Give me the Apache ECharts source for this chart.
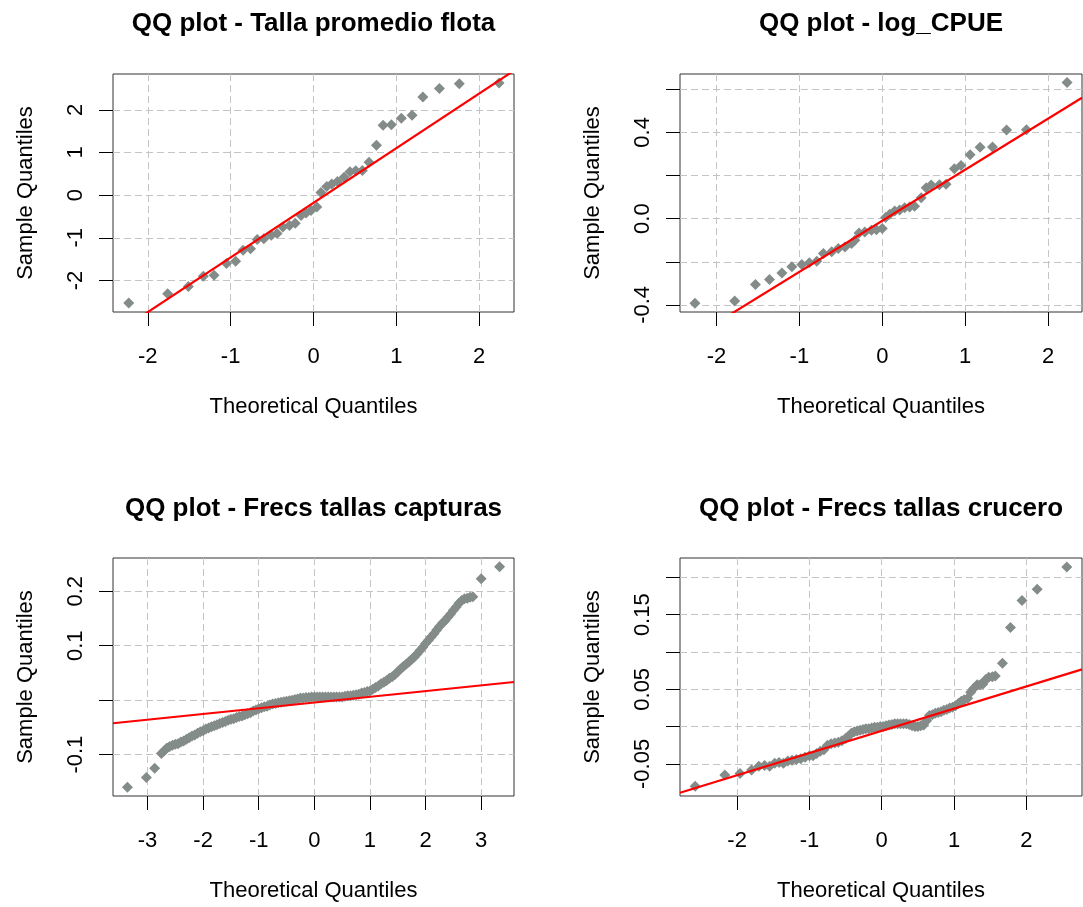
<!DOCTYPE html>
<html>
<head>
<meta charset="utf-8">
<script src="https://cdn.jsdelivr.net/npm/echarts@6/dist/echarts.min.js"></script>
<style>
html,body{margin:0;padding:0;background:#fff;}
#chart{width:1083px;height:907px;}
</style>
</head>
<body>
<div id="chart"></div>
<script>
// ---------- Panel 1: Talla promedio flota ----------
const p1x = [-2.23,-1.76,-1.51,-1.33,-1.20,-1.05,-0.94,-0.85,-0.76,-0.68,-0.60,-0.51,-0.44,-0.37,-0.29,-0.22,-0.15,-0.09,-0.03,0.04,0.09,0.16,0.22,0.29,0.37,0.44,0.51,0.59,0.67,0.76,0.84,0.94,1.06,1.19,1.32,1.52,1.76,2.24];
const p1y = [-2.53,-2.31,-2.14,-1.90,-1.88,-1.60,-1.55,-1.29,-1.26,-1.04,-1.02,-0.94,-0.90,-0.75,-0.71,-0.66,-0.48,-0.42,-0.36,-0.28,0.06,0.20,0.26,0.32,0.42,0.55,0.57,0.58,0.77,1.17,1.64,1.65,1.80,1.87,2.30,2.50,2.61,2.63];
const p1LineX = [-2.42, 2.42];
const p1LineY = [-3.28, 2.92];

// ---------- Panel 2: log_CPUE ----------
const p2x = [-2.26,-1.78,-1.53,-1.36,-1.21,-1.09,-0.97,-0.88,-0.79,-0.71,-0.61,-0.53,-0.45,-0.37,-0.33,-0.28,-0.21,-0.13,-0.07,0.00,0.04,0.09,0.15,0.21,0.27,0.33,0.39,0.47,0.53,0.59,0.69,0.77,0.87,0.95,1.06,1.18,1.33,1.50,1.74,2.23];
const p2y = [-0.392,-0.382,-0.305,-0.282,-0.252,-0.223,-0.213,-0.205,-0.198,-0.162,-0.154,-0.139,-0.131,-0.115,-0.100,-0.066,-0.062,-0.054,-0.051,-0.046,0.005,0.020,0.035,0.040,0.051,0.054,0.058,0.097,0.143,0.156,0.157,0.160,0.232,0.247,0.297,0.331,0.332,0.411,0.412,0.632];
const p2LineX = [-2.44, 2.41];
const p2LineY = [-0.588, 0.561];

// ---------- Panel 3: Frecs tallas capturas ----------
const p3x = [-3.36,-3.02,-2.87,
-2.75,-2.70,-2.65,-2.60,-2.55,-2.50,-2.45,-2.40,-2.35,-2.30,-2.25,-2.20,-2.15,-2.10,-2.05,-2.00,
-1.95,-1.90,-1.85,-1.80,-1.75,-1.70,-1.65,-1.60,-1.55,-1.50,-1.45,-1.40,-1.35,-1.30,-1.25,-1.20,
-1.15,-1.10,-1.05,-1.00,-0.95,-0.90,-0.85,-0.80,-0.75,-0.70,-0.65,-0.60,-0.55,-0.50,-0.45,-0.40,
-0.35,-0.30,-0.25,-0.20,-0.15,-0.10,-0.05,0.00,0.05,0.10,0.15,0.20,0.25,0.30,0.35,0.40,0.45,0.50,
0.55,0.60,0.65,0.70,0.75,0.80,0.85,0.90,0.95,1.00,1.05,1.10,1.15,1.20,1.25,1.30,1.35,1.40,1.45,
1.50,1.55,1.60,1.65,1.70,1.75,1.80,1.85,1.90,1.95,2.00,2.05,2.10,2.15,2.20,2.25,2.30,2.35,2.40,
2.45,2.50,2.55,2.60,2.65,2.70,2.75,2.80,2.85,
3.00,3.33];
const p3y = [-0.160,-0.142,-0.125,
-0.098,-0.093,-0.088,-0.085,-0.083,-0.081,-0.080,-0.077,-0.075,-0.072,-0.069,-0.066,-0.064,-0.061,-0.058,-0.056,
-0.053,-0.051,-0.049,-0.047,-0.045,-0.043,-0.041,-0.039,-0.037,-0.035,-0.034,-0.032,-0.030,-0.029,-0.027,-0.025,
-0.023,-0.020,-0.018,-0.016,-0.014,-0.012,-0.011,-0.009,-0.007,-0.006,-0.005,-0.004,-0.003,-0.002,-0.001,0.000,
0.001,0.002,0.004,0.004,0.005,0.005,0.006,0.006,0.006,0.006,0.006,0.006,0.006,0.006,0.006,0.006,0.006,0.006,
0.007,0.008,0.008,0.009,0.010,0.011,0.013,0.014,0.016,0.017,0.020,0.023,0.026,0.030,0.033,0.036,0.040,0.043,0.047,
0.052,0.057,0.062,0.066,0.070,0.075,0.079,0.085,0.091,0.097,0.104,0.110,0.116,0.122,0.129,0.135,0.141,0.146,0.152,
0.158,0.165,0.171,0.178,0.183,0.186,0.187,0.189,0.190,
0.223,0.245];
const p3LineX = [-3.62, 3.59];
const p3LineY = [-0.0424, 0.0333];

// ---------- Panel 4: Frecs tallas crucero ----------
const p4x = [-2.58,-2.17,-1.96,-1.80,-1.70,-1.62,-1.55,-1.48,-1.42,-1.36,-1.30,-1.24,-1.18,-1.12,-1.06,-1.00,-0.95,-0.90,-0.85,-0.80,-0.75,-0.70,-0.65,-0.60,-0.55,-0.50,-0.46,-0.42,-0.38,-0.34,-0.30,-0.26,-0.22,-0.18,-0.14,-0.10,-0.06,-0.02,0.02,0.06,0.10,0.14,0.18,0.22,0.26,0.30,0.34,0.38,0.42,0.46,0.50,0.54,0.58,0.62,0.66,0.70,0.74,0.78,0.82,0.86,0.90,0.94,0.98,1.02,1.06,1.10,1.14,1.19,1.23,1.27,1.32,1.36,1.40,1.44,1.48,1.53,1.57,1.67,1.78,1.94,2.15,2.56];
const p4y = [-0.080,-0.065,-0.063,-0.058,-0.053,-0.052,-0.053,-0.049,-0.048,-0.049,-0.046,-0.045,-0.044,-0.043,-0.041,-0.039,-0.039,-0.036,-0.033,-0.031,-0.025,-0.023,-0.022,-0.021,-0.019,-0.016,-0.013,-0.009,-0.007,-0.006,-0.005,-0.004,-0.003,-0.003,-0.002,-0.001,-0.001,0.000,0.000,0.001,0.002,0.003,0.004,0.004,0.004,0.004,0.004,0.003,0.001,0.000,0.000,0.001,0.002,0.008,0.015,0.016,0.018,0.019,0.020,0.022,0.023,0.025,0.026,0.028,0.031,0.034,0.036,0.038,0.046,0.051,0.056,0.056,0.057,0.063,0.066,0.067,0.068,0.085,0.133,0.169,0.184,0.214];
const p4LineX = [-2.79, 2.77];
const p4LineY = [-0.0887, 0.0767];

// ---------- Titles and tick labels ----------
const titles = ['QQ plot - Talla promedio flota','QQ plot - log_CPUE','QQ plot - Frecs tallas capturas','QQ plot - Frecs tallas crucero'];
const xTicks = [[-2,-1,0,1,2],[-2,-1,0,1,2],[-3,-2,-1,0,1,2,3],[-2,-1,0,1,2]];
const yTicks = [[-2,-1,0,1,2],[-0.4,-0.2,0,0.2,0.4,0.6],[-0.1,0,0.1,0.2],[-0.05,0,0.05,0.1,0.15,0.2]];
const yLabels = [[-2,-1,0,1,2],[-0.4,0,0.4],[-0.1,0.1,0.2],[-0.05,0.05,0.15]];
const yDecimals = [0,1,1,2];
const xRange = [[-2.42,2.42],[-2.44,2.41],[-3.62,3.59],[-2.79,2.77]];
const yRange = [[-2.74,2.84],[-0.433,0.671],[-0.176,0.261],[-0.093,0.226]];

const xName = 'Theoretical Quantiles';
const yName = 'Sample Quantiles';

const FONT = "'Liberation Sans', Arial, sans-serif";
const PT_COLOR = '#848c89';
const GRID_COLOR = '#c4c4c4';

const grids = [
  {left:113, top:74, width:401, height:238},
  {left:680, top:74, width:402, height:238},
  {left:113, top:558, width:401, height:238},
  {left:680, top:558, width:402, height:238}
];

function zip(a,b){ return a.map((v,i)=>[v,b[i]]); }
const ptsX = [p1x,p2x,p3x,p4x], ptsY = [p1y,p2y,p3y,p4y];
const lnX = [p1LineX,p2LineX,p3LineX,p4LineX], lnY = [p1LineY,p2LineY,p3LineY,p4LineY];

const option = {
  animation:false,
  backgroundColor:'#ffffff',
  textStyle:{fontFamily:FONT},
  title: titles.map((t,i)=>({
    text:t,
    left: grids[i].left + grids[i].width/2,
    top: i<2 ? 11 : 496,
    textAlign:'center',
    padding:0,
    textStyle:{fontFamily:FONT,fontSize:26,fontWeight:'bold',color:'#000'}
  })),
  grid: grids.map(g=>Object.assign({show:true,borderColor:'#333',borderWidth:1,containLabel:false},g)),
  xAxis: grids.map((g,i)=>({
    type:'value', gridIndex:i, position:'bottom',
    min:xRange[i][0], max:xRange[i][1],
    name:xName, nameLocation:'middle', nameGap:84,
    nameTextStyle:{fontFamily:FONT,fontSize:22,color:'#000'},
    axisLine:{show:false,onZero:false},
    axisTick:{show:true,inside:false,length:14,customValues:xTicks[i],lineStyle:{color:'#000',width:1}},
    axisLabel:{show:true,margin:34,fontSize:22,color:'#000',fontFamily:FONT,customValues:xTicks[i],
      formatter:v=>String(Math.round(v))},
    splitLine:{show:true,lineStyle:{color:GRID_COLOR,type:[7,4],width:1}}
  })),
  yAxis: grids.map((g,i)=>({
    type:'value', gridIndex:i, position:'left',
    min:yRange[i][0], max:yRange[i][1],
    name:yName, nameLocation:'middle', nameGap:76,
    nameTextStyle:{fontFamily:FONT,fontSize:22,color:'#000'},
    axisLine:{show:false,onZero:false},
    axisTick:{show:true,inside:false,length:14,customValues:yTicks[i],lineStyle:{color:'#000',width:1}},
    axisLabel:{show:true,margin:26,rotate:90,fontSize:22,color:'#000',fontFamily:FONT,customValues:yLabels[i],
      formatter:v=>Number(v).toFixed(yDecimals[i])},
    splitLine:{show:true,lineStyle:{color:GRID_COLOR,type:[7,4],width:1}}
  })),
  series: [
    ...ptsX.map((xs,i)=>({
      type:'scatter', xAxisIndex:i, yAxisIndex:i,
      symbol:'diamond', symbolSize:11,
      itemStyle:{color:PT_COLOR,opacity:1},
      data: zip(xs, ptsY[i]),
      z:2
    })),
    ...lnX.map((xs,i)=>({
      type:'line', xAxisIndex:i, yAxisIndex:i,
      showSymbol:false, clip:true,
      lineStyle:{color:'#ff0000',width:2.2},
      data: zip(xs, lnY[i]),
      z:3
    }))
  ]
};

const chart = echarts.init(document.getElementById('chart'), null, {renderer:'canvas'});
chart.setOption(option);
</script>
</body>
</html>
